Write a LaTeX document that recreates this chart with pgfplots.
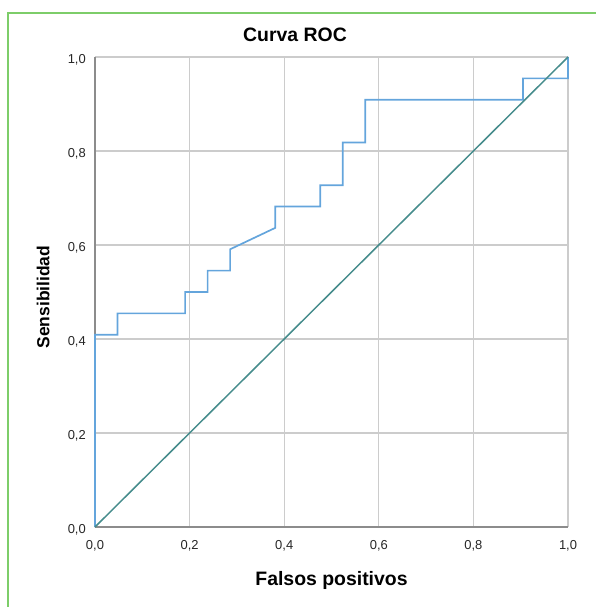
\documentclass[border=0pt]{standalone}
\usepackage{pgfplots}
\pgfplotsset{compat=1.18}
\usepackage{fontspec}
\setmainfont{Liberation Sans}
\definecolor{roc}{RGB}{100,165,220}
\definecolor{diag}{RGB}{70,140,140}
\definecolor{gridc}{RGB}{204,204,204}
\definecolor{axc}{RGB}{140,140,140}
\definecolor{frameg}{RGB}{125,205,105}
\begin{document}
\begin{tikzpicture}[x=1bp,y=1bp]
\path[use as bounding box] (-95,-80) rectangle (501,527);
\draw[frameg, line width=1.2bp] (-87,-81) -- (-87,514) -- (502,514);
\begin{axis}[
  at={(0,0)}, anchor=south west,
  scale only axis, width=473bp, height=470bp,
  xmin=0, xmax=1, ymin=0, ymax=1,
  xtick={0,0.2,0.4,0.6,0.8,1}, ytick={0,0.2,0.4,0.6,0.8,1},
  major tick length=0pt,
  grid=major,
  grid style={gridc, line width=1.3bp},
  axis x line*=bottom, axis y line*=left,
  axis line style={axc, line width=1.4bp, -},
  /pgf/number format/.cd, fixed, fixed zerofill, precision=1, use comma, assume math mode=true,
  /pgfplots/.cd,
  ticklabel style={font=\fontsize{13}{15}\selectfont, text=black!85},
  xticklabel style={anchor=north, inner sep=0pt, yshift=-13bp},
  yticklabel style={anchor=east, inner sep=0pt, xshift=-9bp, yshift=-3bp},
  title={Curva ROC},
  title style={font=\fontsize{19.5}{22}\selectfont\bfseries, at={(axis description cs:0.4228,1.034)}, anchor=center, inner sep=0pt},
  xlabel={Falsos positivos},
  xlabel style={font=\fontsize{19.5}{22}\selectfont\bfseries, at={(axis description cs:0.5,-0.1128)}, anchor=center, inner sep=0pt},
  ylabel={Sensibilidad},
  ylabel style={font=\fontsize{17.5}{20}\selectfont\bfseries, at={(axis description cs:-0.1099,0.489)}, anchor=center, inner sep=0pt, rotate=0},
  clip=false,
]
\addplot[roc, line width=1.7bp] coordinates {
(0,0) (0,0.4091) (0.0476,0.4091) (0.0476,0.4545) (0.1905,0.4545) (0.1905,0.5)
(0.2381,0.5) (0.2381,0.5455) (0.2857,0.5455) (0.2857,0.5909) (0.3810,0.6364)
(0.3810,0.6818) (0.4762,0.6818) (0.4762,0.7273) (0.5238,0.7273) (0.5238,0.8182)
(0.5714,0.8182) (0.5714,0.9091) (0.9048,0.9091) (0.9048,0.9545) (1,0.9545) (1,1)
};
\addplot[diag, line width=1.5bp] coordinates {(0,0) (1,1)};
\end{axis}
\end{tikzpicture}
\end{document}
